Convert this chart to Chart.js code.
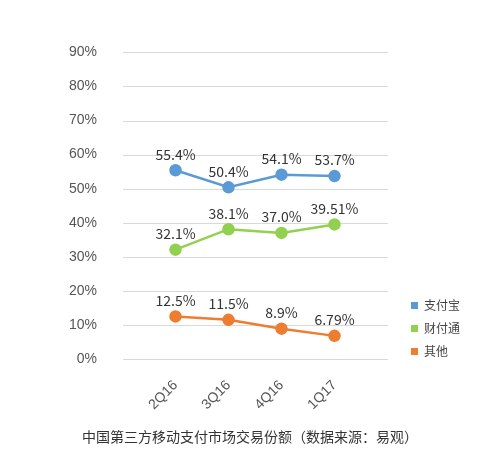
<!DOCTYPE html><html><head><meta charset="utf-8">
<script src="https://cdn.jsdelivr.net/npm/chart.js@4/dist/chart.umd.min.js"></script>
<style>body{margin:0;background:#fff;font-family:"Noto Sans CJK SC",sans-serif}
#w{position:relative;width:500px;height:461px}
#t{position:absolute;left:0;width:500px;top:426px;text-align:center;font-size:14px;color:#333}
.lg{position:absolute;left:411px;font-size:12px;color:#444}
.lg i{display:inline-block;width:7px;height:7px;margin-right:6px;vertical-align:1px}</style></head><body>
<div id="w"><canvas id="c" width="500" height="461"></canvas>
<div class="lg" style="top:296px"><i style="background:#5b9bd5"></i>支付宝</div>
<div class="lg" style="top:319px"><i style="background:#92d050"></i>财付通</div>
<div class="lg" style="top:342px"><i style="background:#ed7d31"></i>其他</div>
<div id="t">中国第三方移动支付市场交易份额（数据来源：易观）</div></div>
<script>
const categories=["2Q16","3Q16","4Q16","1Q17"];
const alipay=[55.4,50.4,54.1,53.7];
const tenpay=[32.1,38.1,37.0,39.51];
const others=[12.5,11.5,8.9,6.79];
const alipayLabels=["55.4%","50.4%","54.1%","53.7%"];
const tenpayLabels=["32.1%","38.1%","37.0%","39.51%"];
const otherLabels=["12.5%","11.5%","8.9%","6.79%"];
const grid={id:'g',beforeDatasetsDraw(ch){const c=ch.ctx,y=ch.scales.y;c.save();c.strokeStyle='#d9d9d9';c.lineWidth=1;
y.ticks.forEach(t=>{const p=Math.round(y.getPixelForValue(t.value))+0.5;c.beginPath();c.moveTo(123,p);c.lineTo(388,p);c.stroke();});c.restore();}};
const lbl={id:'l',afterDatasetsDraw(ch){const c=ch.ctx;c.save();c.font='14px "Noto Sans CJK SC",sans-serif';c.fillStyle='#333';c.textAlign='center';c.textBaseline='bottom';
ch.data.datasets.forEach((d,i)=>ch.getDatasetMeta(i).data.forEach((p,j)=>c.fillText(d.lab[j],p.x,p.y-9)));c.restore();}};
const ds=(l,d,col,lab)=>({label:l,data:d,lab,borderColor:col,backgroundColor:col,borderWidth:2.5,pointRadius:5,pointHoverRadius:5});
new Chart(document.getElementById('c'),{type:'line',data:{labels:categories,datasets:[ds('支付宝',alipay,'#5b9bd5',alipayLabels),ds('财付通',tenpay,'#92d050',tenpayLabels),ds('其他',others,'#ed7d31',otherLabels)]},
options:{responsive:false,animation:false,plugins:{legend:{display:false},tooltip:{enabled:false}},
layout:{padding:{left:0,right:139,top:16,bottom:0}},
scales:{y:{min:0,max:90,grid:{display:false},border:{display:false},afterFit(s){s.width=149},ticks:{stepSize:10,padding:44,color:'#555',font:{size:14},callback:v=>v+'%'}},
x:{offset:true,grid:{display:false},border:{display:false},afterFit(s){s.height=102},ticks:{minRotation:45,maxRotation:45,color:'#555',font:{size:14},padding:10}}}},
plugins:[grid,lbl]});
</script></body></html>
